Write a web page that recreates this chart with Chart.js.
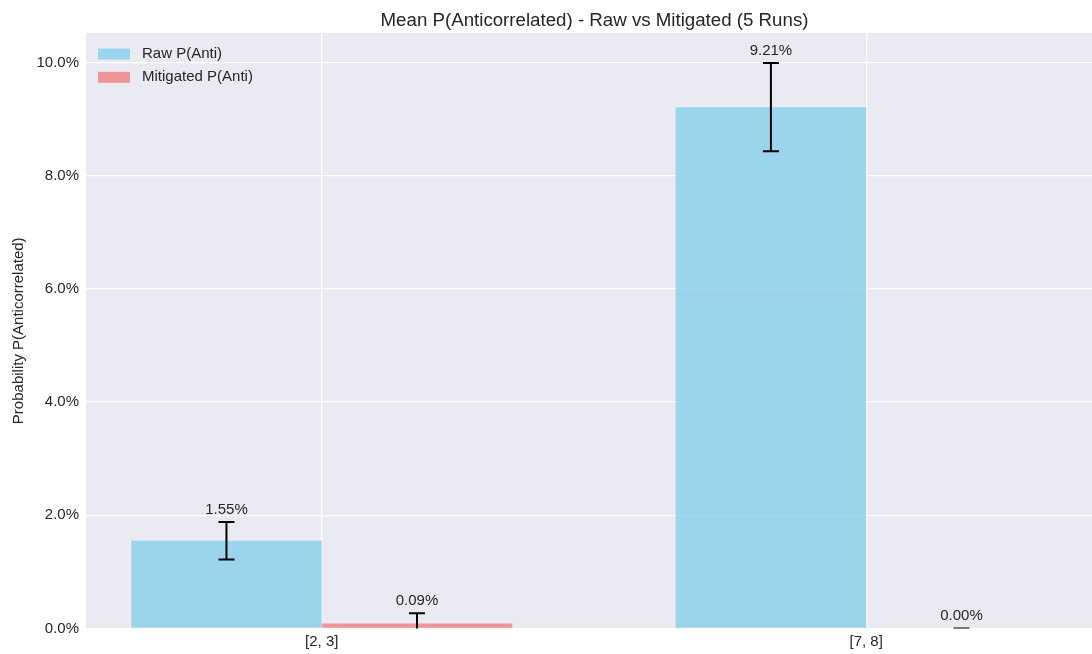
<!DOCTYPE html>
<html>
<head>
<meta charset="utf-8">
<script src="https://cdn.jsdelivr.net/npm/chart.js@4/dist/chart.umd.min.js"></script>
<style>
  html, body { margin: 0; padding: 0; background: #ffffff; overflow: hidden; }
  #wrap { width: 1120px; height: 654px; }
</style>
</head>
<body>
<div id="wrap"><canvas id="c" width="1120" height="654"></canvas></div>
<script>
// Qubit pairs and mean anticorrelated probability (percent) over 5 runs
const pairLabels = ['[2, 3]', '[7, 8]'];
const rawMean = [1.55, 9.21];
const rawErr = [0.33, 0.78];
const mitMean = [0.09, 0.00];
const mitErr = [0.18, 0.00];
const yTicks = [0, 2, 4, 6, 8, 10];
const seriesNames = ['Raw P(Anti)', 'Mitigated P(Anti)'];
const titleText = 'Mean P(Anticorrelated) - Raw vs Mitigated (5 Runs)';
const yTitle = 'Probability P(Anticorrelated)';

const FONT = '"Liberation Sans", Arial, Helvetica, sans-serif';
const TEXT = '#262626';
Chart.defaults.font.family = FONT;
Chart.defaults.color = TEXT;

// Axes background (seaborn-like darkgrid)
const plotBackground = {
  id: 'plotBackground',
  beforeDraw(chart) {
    const { ctx, chartArea: a } = chart;
    ctx.save();
    ctx.fillStyle = '#eaeaf2';
    ctx.fillRect(a.left, a.top, a.right - a.left, a.bottom - a.top);
    ctx.restore();
  }
};

// Error bars with caps plus value labels above each bar
const errorBars = {
  id: 'errorBars',
  afterDatasetsDraw(chart) {
    const { ctx, chartArea: a, scales: { y } } = chart;
    const tops = [];
    ctx.save();
    ctx.beginPath();
    ctx.rect(a.left, a.top, a.right - a.left, a.bottom - a.top);
    ctx.clip();
    ctx.strokeStyle = '#000000';
    ctx.lineWidth = 2;
    chart.data.datasets.forEach((ds, di) => {
      const meta = chart.getDatasetMeta(di);
      meta.data.forEach((bar, i) => {
        const v = ds.data[i].y, e = ds.errors[i];
        const yTop = y.getPixelForValue(v + e);
        const yBot = y.getPixelForValue(v - e);
        const cx = bar.x;
        ctx.beginPath();
        ctx.moveTo(cx, yTop); ctx.lineTo(cx, yBot);
        ctx.moveTo(cx - 8, yTop); ctx.lineTo(cx + 8, yTop);
        ctx.moveTo(cx - 8, yBot); ctx.lineTo(cx + 8, yBot);
        ctx.stroke();
        tops.push({ cx, yTop, v });
      });
    });
    ctx.restore();

    ctx.save();
    ctx.fillStyle = TEXT;
    ctx.font = '15px ' + FONT;
    ctx.textAlign = 'center';
    ctx.textBaseline = 'middle';
    tops.forEach(t => ctx.fillText(t.v.toFixed(2) + '%', t.cx, t.yTop - 12.5));
    ctx.restore();
  }
};

// Legend in the upper-left corner of the plot area
const cornerLegend = {
  id: 'cornerLegend',
  afterDraw(chart) {
    const { ctx, chartArea: a } = chart;
    ctx.save();
    ctx.font = '15px ' + FONT;
    ctx.textBaseline = 'middle';
    ctx.textAlign = 'left';
    chart.data.datasets.forEach((ds, i) => {
      const cy = a.top + 21 + i * 23.3;
      ctx.fillStyle = ds.backgroundColor;
      ctx.fillRect(a.left + 12, cy - 5.5, 32, 11);
      ctx.fillStyle = TEXT;
      ctx.fillText(ds.label, a.left + 56, cy);
    });
    ctx.restore();
  }
};

new Chart(document.getElementById('c'), {
  type: 'bar',
  data: {
    datasets: [
      {
        label: seriesNames[0],
        data: rawMean.map((v, i) => ({ x: i, y: v })),
        errors: rawErr,
        backgroundColor: 'rgba(135, 206, 235, 0.8)',
        borderWidth: 0,
        categoryPercentage: 0.7,
        barPercentage: 1.0
      },
      {
        label: seriesNames[1],
        data: mitMean.map((v, i) => ({ x: i, y: v })),
        errors: mitErr,
        backgroundColor: 'rgba(240, 128, 128, 0.8)',
        borderWidth: 0,
        categoryPercentage: 0.7,
        barPercentage: 1.0
      }
    ]
  },
  options: {
    responsive: false,
    animation: false,
    devicePixelRatio: 1,
    layout: { padding: { left: 0, right: 17, top: 0, bottom: 0 } },
    plugins: {
      legend: { display: false },
      tooltip: { enabled: false },
      title: {
        display: true,
        text: titleText,
        fullSize: false,
        color: TEXT,
        font: { size: 18.7, weight: 'normal', family: FONT },
        padding: { top: 9.5, bottom: 1.1 }
      }
    },
    scales: {
      x: {
        type: 'linear',
        min: -0.433,
        max: 1.435,
        offset: false,
        afterBuildTicks: (s) => { s.ticks = pairLabels.map((_, i) => ({ value: i })); },
        afterFit: (s) => { s.height = 25.5; },
        ticks: {
          color: TEXT,
          font: { size: 15 },
          padding: 4,
          autoSkip: false,
          maxRotation: 0,
          callback: (v) => pairLabels[v]
        },
        grid: { color: '#ffffff', lineWidth: 1.3, drawTicks: false, offset: false },
        border: { display: false }
      },
      y: {
        min: 0,
        max: 10.52,
        afterBuildTicks: (s) => { s.ticks = yTicks.map(v => ({ value: v })); },
        afterFit: (s) => { s.width = 86; },
        ticks: {
          color: TEXT,
          font: { size: 15 },
          padding: 7,
          callback: (v) => v.toFixed(1) + '%'
        },
        grid: { color: '#ffffff', lineWidth: 1.3, drawTicks: false },
        border: { display: false },
        title: {
          display: true,
          text: yTitle,
          color: TEXT,
          font: { size: 15 },
          padding: { top: 10, bottom: 0 }
        }
      }
    }
  },
  plugins: [plotBackground, errorBars, cornerLegend]
});
</script>
</body>
</html>
